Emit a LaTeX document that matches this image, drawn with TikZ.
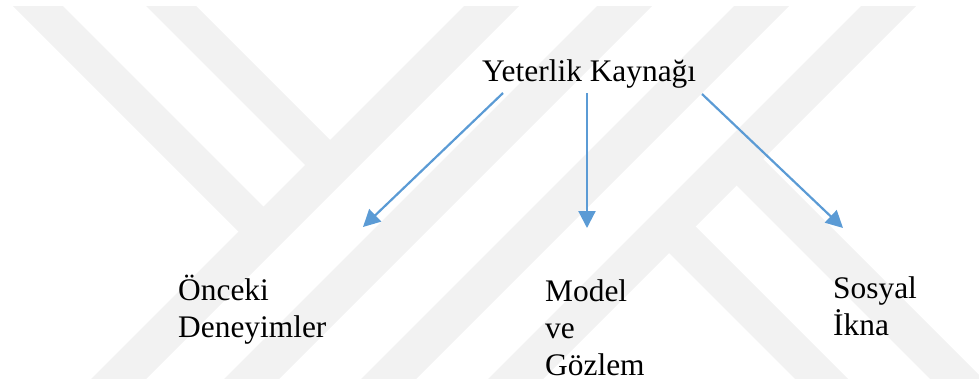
\documentclass[tikz,border=0pt]{standalone}
\usepackage{fontspec}
\setmainfont{Liberation Serif}
\usetikzlibrary{arrows.meta}
\definecolor{arrowblue}{RGB}{91,155,213}

\begin{document}
\begin{tikzpicture}[x = 1pt, y = -1pt,
                        txt/.style = {font = \fontsize{31.4}{37}\selectfont, inner sep = 0pt, align = left, anchor = base west},
                        wmark/.style = {fill = black!5},
                        link/.style = {draw = arrowblue, line width = 2.2pt, -{Triangle[length = 17pt, width = 17pt]}}]
      \useasboundingbox (0, 0) rectangle (979, 386);
      % watermark in the background
      \begin{scope}
        \clip (0, 6) rectangle (979, 378);
        \foreach \s in {470, 603, 740, 867}
          \fill [wmark] (\s+50, -50) -- (\s+105, -50) -- (\s-395, 450) -- (\s-450, 450) -- cycle;
        \foreach \d in {7, 140}
          \fill [wmark] (\d-50, -50) -- (\d, -50) -- ({(540+\d)/2}, {(440-\d)/2}) -- ({(490+\d)/2}, {(490-\d)/2}) -- cycle;
        \foreach \d in {416, 551}
          \fill [wmark] ({(905+\d)/2}, {(905-\d)/2}) -- ({(958+\d)/2}, {(852-\d)/2}) -- (\d+503, 450) -- (\d+450, 450) -- cycle;
      \end{scope}
      % texts (base is the last line)
      \node [txt] (yk) at (482, 81){Yeterlik Kaynağı};
      \node [txt] (od) at (178, 337){Önceki\\Deneyimler};
      \node [txt] (mg) at (545, 375){Model\\ve\\Gözlem};
      \node [txt] (si) at (833, 335){Sosyal\\İkna};
      % arrow ends
      \coordinate (s1) at (503, 93);
      \coordinate (t1) at (363, 227);
      \coordinate (s2) at (587, 93);
      \coordinate (t2) at (587, 228);
      \coordinate (s3) at (702, 94);
      \coordinate (t3) at (843, 228);
      \draw [link] (s1) -- (t1);
      \draw [link] (s2) -- (t2);
      \draw [link] (s3) -- (t3);
    \end{tikzpicture}
\end{document}
